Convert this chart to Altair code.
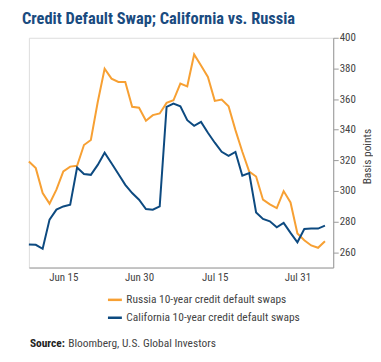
import altair as alt
import pandas as pd

russia = [319.2, 314.9, 298.6, 291.7, 300.8, 312.7, 315.9, 316.4, 330.0, 333.3,
          358.1, 379.8, 373.3, 371.2, 371.2, 354.9, 354.3, 345.8, 349.5, 350.6,
          357.5, 359.2, 370.1, 368.3, 389.1, 381.9, 374.4, 358.8, 359.7, 355.3,
          339.7, 325.6, 312.6, 309.4, 294.3, 291.2, 288.8, 299.9, 292.5, 272.2,
          267.8, 264.4, 262.9, 267.2]
california = [265.0, 264.8, 262.2, 281.3, 287.8, 289.9, 291.0, 315.3, 311.1, 310.5,
              317.0, 325.0, 318.1, 311.1, 304.0, 298.6, 294.3, 288.2, 287.8, 289.9,
              354.9, 357.1, 355.3, 346.2, 342.5, 345.1, 338.0, 331.5, 325.6, 322.9,
              325.5, 309.9, 311.6, 286.0, 281.7, 280.2, 276.3, 279.1, 272.6, 266.5,
              275.2, 275.4, 275.4, 277.3]
series_names = ["Russia 10-year credit default swaps", "California 10-year credit default swaps"]
series_colors = ["#F7A033", "#0D4A80"]
tick_idx = [5, 16, 27, 39]
tick_labels = ["Jun 15", "Jun 30", "Jul 15", "Jul 31"]
y_ticks = [260, 280, 300, 320, 340, 360, 380, 400]

rows = []
for name, vals in zip(series_names, [russia, california]):
    for i, v in enumerate(vals):
        rows.append({"series": name, "idx": i, "value": v})
df = pd.DataFrame(rows)

label_expr = " : ".join(
    f"datum.value == {i} ? '{l}'" for i, l in zip(tick_idx, tick_labels)
) + " : ''"

FONT = "Liberation Sans Narrow, Arial Narrow, Roboto Condensed, sans-serif"

lines = alt.Chart(df).mark_line(strokeWidth=2).encode(
    x=alt.X("idx:Q", scale=alt.Scale(domain=[0, 44.2], nice=False, zero=False),
            axis=alt.Axis(values=tick_idx, labelExpr=label_expr, ticks=False, tickSize=0,
                          grid=False, title=None, domainColor="#9a9a9a",
                          labelPadding=4, labelFontSize=11, labelColor="#444")),
    y=alt.Y("value:Q", scale=alt.Scale(domain=[250, 400], nice=False, zero=False),
            axis=alt.Axis(orient="right", values=y_ticks, grid=False, title="Basis points",
                          titleFontWeight="normal", titleFontSize=11.5, titleColor="#444",
                          titleAngle=270, titleX=34, titleY=119, titleAlign="center",
                          titleBaseline="middle", domainColor="#9a9a9a",
                          tickColor="#9a9a9a", tickSize=5, labelFontSize=11,
                          labelColor="#444", labelPadding=1)),
    color=alt.Color("series:N", scale=alt.Scale(domain=series_names, range=series_colors),
                    legend=alt.Legend(orient="none", legendX=78, legendY=255, title=None,
                                      symbolType="stroke", symbolSize=196, symbolStrokeWidth=2.5,
                                      labelFontSize=11.5, labelColor="#444", rowPadding=4,
                                      labelOffset=3, labelLimit=0)),
)

src_df = pd.DataFrame({"a": ["Source:"], "b": ["Bloomberg, U.S. Global Investors"]})
src_bold = alt.Chart(src_df).mark_text(align="left", baseline="middle", fontWeight="bold",
                                       fontSize=11.5, font=FONT, color="#222").encode(
    x=alt.value(1), y=alt.value(308), text="a:N")
src_rest = alt.Chart(src_df).mark_text(align="left", baseline="middle",
                                       fontSize=11.5, font=FONT, color="#444").encode(
    x=alt.value(39.5), y=alt.value(308), text="b:N")

chart = alt.layer(lines, src_bold, src_rest).properties(
    width=306, height=231,
    autosize=alt.AutoSizeParams(type="none"),
    padding={"left": 21, "top": 29, "right": 40, "bottom": 84},
    title=alt.TitleParams("Credit Default Swap; California vs. Russia", anchor="start",
                          dx=-3, offset=4.5, fontSize=16.5, fontWeight="bold",
                          color="#1A4B7F", font=FONT),
).configure_view(stroke=None).configure(font=FONT)

chart.save("out.html", embed_options={"renderer": "svg", "actions": False})
